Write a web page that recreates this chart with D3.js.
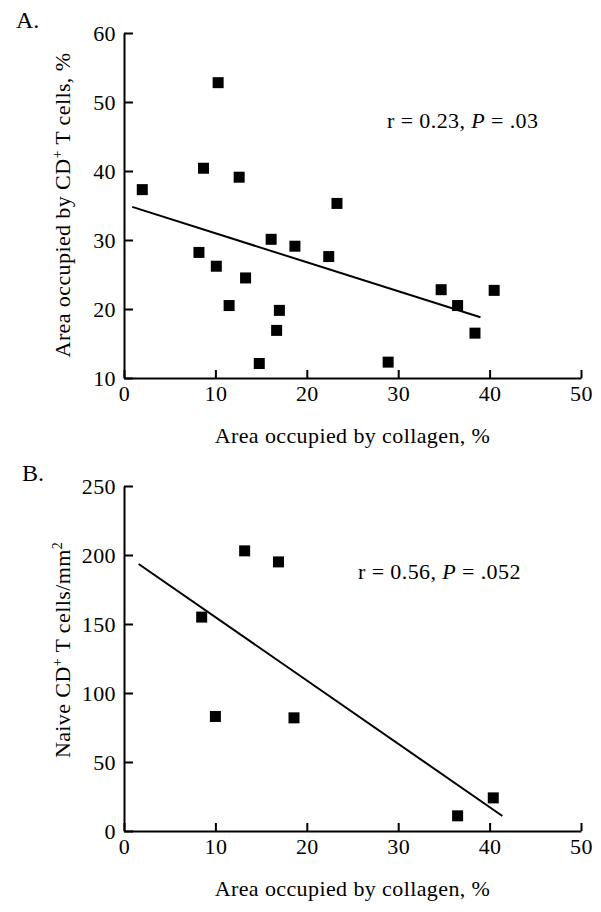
<!DOCTYPE html>
<html>
<head>
<meta charset="utf-8">
<script src="https://cdn.jsdelivr.net/npm/d3@7"></script>
<style>
    body { margin: 0; background: #fff; }
    text { font-family: "Liberation Serif", "Times New Roman", serif; fill: #000; }
</style>
</head>
<body>
<script>
// panel A: collagen vs CD4+ area
const collagenA = [2.0, 10.3, 8.7, 12.6, 23.3, 16.1, 18.7, 8.2, 22.4, 10.1, 13.3, 11.5, 17.0, 16.7, 14.8, 28.9, 34.7, 36.5, 40.5, 38.4];
const cd4A = [37.3, 52.8, 40.4, 39.1, 35.3, 30.1, 29.1, 28.2, 27.6, 26.2, 24.5, 20.5, 19.8, 16.9, 12.1, 12.3, 22.8, 20.5, 22.7, 16.5];
const fitAx = [0.9, 39.0];
const fitAy = [34.8, 18.8];

// panel B: collagen vs naive CD4+ density
const collagenB = [13.2, 16.9, 8.5, 10.0, 18.6, 36.5, 40.4];
const naiveB = [203, 195, 155, 83, 82, 11, 24];
const fitBx = [1.6, 41.4];
const fitBy = [193.5, 10.9];

const xTicks = [0, 10, 20, 30, 40, 50];
const yTicksA = [10, 20, 30, 40, 50, 60];
const yTicksB = [0, 50, 100, 150, 200, 250];

const svgWidth = 601;
const svgHeight = 912;
const left = 124;
const chartWidth = 457;
const chartHeight = 345;
const fontSize = 22;
const spacing = "0.4px";
const markerSize = 11;

const svg = d3.select("body")
    .append("svg")
    .attr("width", svgWidth)
    .attr("height", svgHeight);

const drawPanel = (opts) => {
    const g = svg.append("g")
        .attr("transform", `translate(${left},${opts.top})`);

    const xScale = d3.scaleLinear()
        .domain([0, 50])
        .range([0, chartWidth]);
    const yScale = d3.scaleLinear()
        .domain(opts.yDomain)
        .range([chartHeight, 0]);

    const xAxis = g.append("g")
        .attr("transform", `translate(0,${chartHeight})`)
        .call(d3.axisBottom(xScale).tickValues(xTicks).tickSizeInner(-8).tickSizeOuter(0).tickPadding(7));
    const yAxis = g.append("g")
        .call(d3.axisLeft(yScale).tickValues(opts.yTicks).tickSizeInner(-9).tickSizeOuter(0).tickPadding(8));

    [xAxis, yAxis].forEach(a => {
        a.select(".domain").attr("stroke", "#000").attr("stroke-width", 2);
        a.selectAll(".tick line").attr("stroke", "#000").attr("stroke-width", 2);
        a.selectAll(".tick text")
            .style("font-family", "'Liberation Serif', serif")
            .style("font-size", fontSize + "px")
            .style("letter-spacing", spacing)
            .attr("fill", "#000");
    });

    g.selectAll("rect.pt")
        .data(opts.xs.map((x, i) => ({x: x, y: opts.ys[i]})))
        .enter()
        .append("rect")
        .classed("pt", true)
        .attr("x", d => xScale(d.x) - markerSize / 2)
        .attr("y", d => yScale(d.y) - markerSize / 2)
        .attr("width", markerSize)
        .attr("height", markerSize)
        .attr("fill", "#000");

    const line = d3.line()
        .x(d => xScale(d[0]))
        .y(d => yScale(d[1]));
    g.append("path")
        .datum(opts.fitX.map((x, i) => [x, opts.fitY[i]]))
        .attr("d", line)
        .attr("fill", "none")
        .attr("stroke", "#000")
        .attr("stroke-width", 2);

    // stats annotation
    const stat = g.append("text")
        .attr("x", opts.statX)
        .attr("y", opts.statY)
        .style("font-size", fontSize + "px")
        .style("letter-spacing", spacing);
    stat.append("tspan").text(`r = ${opts.r}, `);
    stat.append("tspan").style("font-style", "italic").text("P");
    stat.append("tspan").text(` = ${opts.p}`);

    // x title
    g.append("text")
        .attr("x", chartWidth / 2)
        .attr("y", chartHeight + 65)
        .attr("text-anchor", "middle")
        .style("font-size", fontSize + "px")
        .style("letter-spacing", spacing)
        .text("Area occupied by collagen, %");

    // y title
    const yt = svg.append("text")
        .attr("transform", `translate(70,${opts.yTitleMid}) rotate(-90)`)
        .attr("text-anchor", "middle")
        .style("font-size", fontSize + "px")
        .style("letter-spacing", spacing);
    opts.yTitle.forEach(part => {
        const t = yt.append("tspan").text(part.text);
        if (part.sup) t.attr("dy", -8).style("font-size", "14px");
        if (part.after) t.attr("dy", 8);
    });

    // panel letter
    svg.append("text")
        .attr("x", opts.letterX)
        .attr("y", opts.letterY)
        .style("font-size", "24px")
        .text(opts.letter);
};

drawPanel({
    top: 33,
    yDomain: [10, 60],
    yTicks: yTicksA,
    xs: collagenA,
    ys: cd4A,
    fitX: fitAx,
    fitY: fitAy,
    r: "0.23",
    p: ".03",
    statX: 263,
    statY: 95,
    yTitleMid: 205,
    yTitle: [
        {text: "Area occupied by CD"},
        {text: "+", sup: true},
        {text: " T cells, %", after: true}
    ],
    letter: "A.",
    letterX: 16,
    letterY: 28
});

drawPanel({
    top: 486,
    yDomain: [0, 250],
    yTicks: yTicksB,
    xs: collagenB,
    ys: naiveB,
    fitX: fitBx,
    fitY: fitBy,
    r: "0.56",
    p: ".052",
    statX: 234,
    statY: 93,
    yTitleMid: 650,
    yTitle: [
        {text: "Naive CD"},
        {text: "+", sup: true},
        {text: " T cells/mm", after: true},
        {text: "2", sup: true}
    ],
    letter: "B.",
    letterX: 22,
    letterY: 481
});
</script>
</body>
</html>
